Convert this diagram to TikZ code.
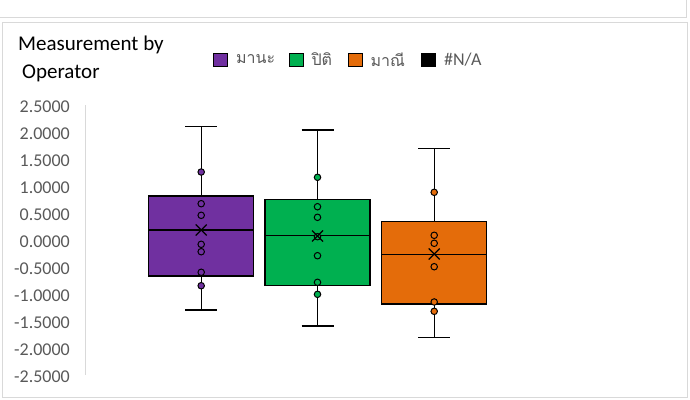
\documentclass[tikz,border=0pt]{standalone}
\usepackage{fontspec}
\setmainfont{Carlito}
\newfontfamily\thaifont[Script=Thai]{Loma}
\usetikzlibrary{positioning}
\definecolor{manacol}{HTML}{7030A0}
\definecolor{piticol}{HTML}{00B050}
\definecolor{maneecol}{HTML}{E46C0A}
\definecolor{framegray}{HTML}{D9D9D9}
\definecolor{labelgray}{HTML}{595959}
\tikzset{
  frame/.style={draw=framegray,line width=1pt},
  titletext/.style={inner sep=0pt,font=\fontsize{21}{25}\selectfont},
  ticklabel/.style={inner sep=0pt,anchor=base east,text=labelgray,font=\fontsize{18}{21}\selectfont},
  legendkey/.style={draw=black,line width=0.8pt,minimum width=14pt,minimum height=13pt,inner sep=0pt},
  legendtext/.style={inner sep=0pt,text=labelgray,font=\fontsize{18}{21}\selectfont},
  whisker/.style={draw=black,line width=1.2pt},
  boxbody/.style={draw=black,line width=1.4pt},
  datapoint/.style={circle,draw=black,line width=1pt,minimum size=6.5pt,inner sep=0pt},
  meanline/.style={draw=black,line width=1.2pt},
}
\begin{document}
\begin{tikzpicture}[x=1pt,y=-1pt]
\useasboundingbox (0,0) rectangle (690,399);
% chart frames
\draw[frame] (0,17) -- (686,17) -- (686,0);
\draw[frame] (2,22) rectangle (687,397);
% title
\node[titletext,anchor=base west] (title1) at (18,50) {Measurement by};
\node[titletext,anchor=base west] (title2) at (22,78) {Operator};
% legend
\foreach \key/\col/\lab/\xx in {mana/manacol/{\fontsize{16}{20}\thaifont มานะ}/220.5,
  piti/piticol/{\fontsize{16}{20}\thaifont ปิติ}/296,
  manee/maneecol/{\fontsize{16}{20}\thaifont มาณี}/355,
  na/black/{\#N/A}/428.5}
{
  \node[legendkey,fill=\col] (key-\key) at (\xx,59.5) {};
  \node[legendtext,right=8pt of key-\key] (lab-\key) {\lab};
}
% value axis
\coordinate (axis-top) at (85,105);
\coordinate (axis-bot) at (85,375);
\draw[frame] (axis-top) -- (axis-bot);
\foreach \t [count=\i] in {2.5000,2.0000,1.5000,1.0000,0.5000,0.0000,-0.5000,-1.0000,-1.5000,-2.0000,-2.5000}
  \node[ticklabel] (tick-\i) at (70,{106.7+27*(\i-1)+6}) {\t};
% boxes
\begin{scope}[shift={(0,241.5)},y=54pt]
\foreach \n/\col/\cx/\lo/\qa/\med/\qb/\hi/\avg/\pts in {
  mana/manacol/201.2/-1.269/-0.639/0.213/0.843/2.126/0.213/{1.287,0.700,0.485,-0.052,-0.189,-0.570,-0.819},
  piti/piticol/317.5/-1.565/-0.811/0.115/0.781/2.065/0.102/{1.189,0.644,0.448,0.089,-0.263,-0.756,-0.978},
  manee/maneecol/434.2/-1.774/-1.157/-0.244/0.367/1.726/-0.231/{0.911,0.115,-0.033,-0.467,-1.120,-1.293}}
{
  \coordinate (\n-lo) at (\cx,\lo);
  \coordinate (\n-qa) at (\cx,\qa);
  \coordinate (\n-qb) at (\cx,\qb);
  \coordinate (\n-hi) at (\cx,\hi);
  \draw[whisker] (\n-hi) -- (\n-qb);
  \draw[whisker] (\n-qa) -- (\n-lo);
  \draw[whisker] ([xshift=-16pt]\n-hi) -- ([xshift=16pt]\n-hi);
  \draw[whisker] ([xshift=-16pt]\n-lo) -- ([xshift=16pt]\n-lo);
  \draw[boxbody,fill=\col] (\cx-52.5,\qa) rectangle (\cx+52.5,\qb);
  \draw[boxbody] (\cx-52.5,\med) -- (\cx+52.5,\med);
  \foreach \p [count=\k] in \pts
    \node[datapoint,fill=\col] (\n-pt\k) at (\cx,\p) {};
  \coordinate (\n-mean) at (\cx,\avg);
  \draw[meanline] ([shift={(-5.5pt,-5.5pt)}]\n-mean) -- ([shift={(5.5pt,5.5pt)}]\n-mean);
  \draw[meanline] ([shift={(-5.5pt,5.5pt)}]\n-mean) -- ([shift={(5.5pt,-5.5pt)}]\n-mean);
}
\end{scope}
\end{tikzpicture}
\end{document}
